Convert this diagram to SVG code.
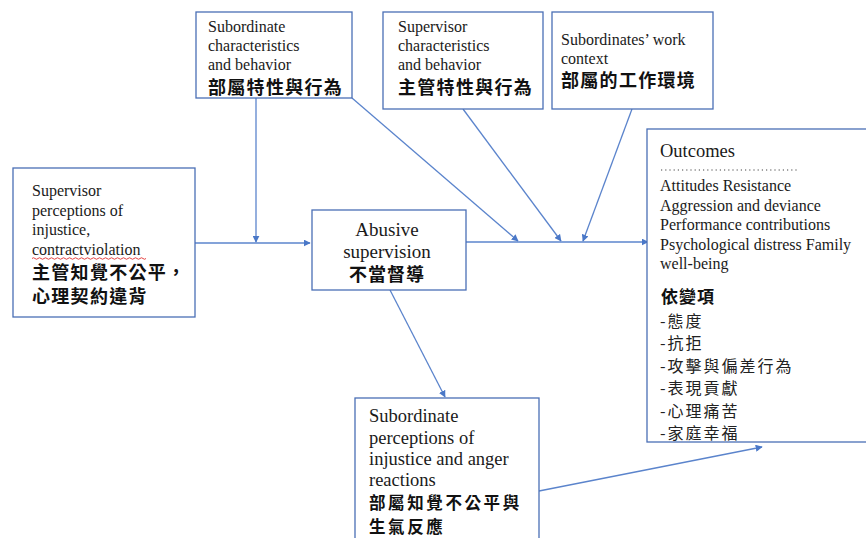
<svg xmlns="http://www.w3.org/2000/svg" width="866" height="538" viewBox="0 0 866 538">
  <defs>
    <style>
      .box { fill: #ffffff; stroke: #4a6fb5; stroke-width: 1.3; }
      .en { font-family: "Liberation Serif", "Times New Roman", serif; fill: #1a1a1a; }
      .zh { font-family: "Noto Sans CJK TC", "Noto Sans CJK SC", sans-serif; font-weight: 700; fill: #111111; }
      .zhl { font-family: "Noto Sans CJK TC", "Noto Sans CJK SC", sans-serif; font-weight: 400; fill: #222222; }
      .link { fill: none; stroke: #5b84cc; stroke-width: 1.3; }
    </style>
    <marker id="arrow" viewBox="0 0 10 10" refX="9" refY="5" markerWidth="7" markerHeight="7" markerUnits="userSpaceOnUse" orient="auto">
      <path d="M0,0 L10,5 L0,10 z" fill="#4a78c8"/>
    </marker>
  </defs>

  <rect width="866" height="538" fill="#ffffff"/>

  <!-- connectors -->
  <g id="connectors">
    <line class="link" x1="195" y1="243" x2="310" y2="243" marker-end="url(#arrow)"/>
    <line class="link" x1="256" y1="98" x2="256" y2="242" marker-end="url(#arrow)"/>
    <line class="link" x1="466" y1="242" x2="648" y2="242" marker-end="url(#arrow)"/>
    <line class="link" x1="352" y1="98" x2="518" y2="241" marker-end="url(#arrow)"/>
    <line class="link" x1="463" y1="109" x2="561" y2="241" marker-end="url(#arrow)"/>
    <line class="link" x1="632" y1="109" x2="583" y2="241" marker-end="url(#arrow)"/>
    <line class="link" x1="390" y1="290" x2="445" y2="397" marker-end="url(#arrow)"/>
    <line class="link" x1="539" y1="491" x2="762" y2="447" marker-end="url(#arrow)"/>
  </g>

  <!-- subordinate characteristics -->
  <g id="sub-char">
    <rect class="box" x="196" y="12" width="156" height="86"/>
    <text class="en" font-size="16" x="208" y="32">Subordinate</text>
    <text class="en" font-size="16" x="208" y="51">characteristics</text>
    <text class="en" font-size="16" x="208" y="70">and behavior</text>
    <text class="zh" font-size="18" x="208" y="94" letter-spacing="1.3">部屬特性與行為</text>
  </g>

  <!-- supervisor characteristics -->
  <g id="sup-char">
    <rect class="box" x="383" y="12" width="160" height="97"/>
    <text class="en" font-size="16" x="398" y="32">Supervisor</text>
    <text class="en" font-size="16" x="398" y="51">characteristics</text>
    <text class="en" font-size="16" x="398" y="70">and behavior</text>
    <text class="zh" font-size="18" x="398" y="94" letter-spacing="1.3">主管特性與行為</text>
  </g>

  <!-- work context -->
  <g id="work-context">
    <rect class="box" x="552" y="12" width="161" height="97"/>
    <text class="en" font-size="16" x="561" y="45">Subordinates’ work</text>
    <text class="en" font-size="16" x="561" y="64">context</text>
    <text class="zh" font-size="18" x="561" y="87" letter-spacing="1.3">部屬的工作環境</text>
  </g>

  <!-- supervisor perceptions -->
  <g id="sup-perceptions">
    <rect class="box" x="13" y="168" width="182" height="149"/>
    <text class="en" font-size="16" x="32" y="196">Supervisor</text>
    <text class="en" font-size="16" x="32" y="216">perceptions of</text>
    <text class="en" font-size="16" x="32" y="235">injustice,</text>
    <text class="en" font-size="16" x="32" y="255">contractviolation</text>
    <!-- spell-check squiggle -->
    <path d="M32,258.5 q1.5,-1.5 3,0 t3,0 t3,0 t3,0 t3,0 t3,0 t3,0 t3,0 t3,0 t3,0 t3,0 t3,0 t3,0 t3,0 t3,0 t3,0 t3,0 t3,0 t3,0 t3,0 t3,0 t3,0 t3,0 t3,0 t3,0 t3,0 t3,0 t3,0 t3,0 t3,0 t3,0 t3,0 t3,0 t3,0 t3,0 t3,0 t3,0 t3,0" fill="none" stroke="#e03030" stroke-width="0.9"/>
    <text class="zh" font-size="18" x="32" y="279" letter-spacing="1.3">主管知覺不公平，</text>
    <text class="zh" font-size="18" x="32" y="303" letter-spacing="1.3">心理契約違背</text>
  </g>

  <!-- abusive supervision -->
  <g id="abusive">
    <rect class="box" x="312" y="210" width="154" height="80"/>
    <text class="en" font-size="19" x="387" y="236" text-anchor="middle">Abusive</text>
    <text class="en" font-size="19" x="387" y="258" text-anchor="middle">supervision</text>
    <text class="zh" font-size="18" x="387" y="281" text-anchor="middle" letter-spacing="1">不當督導</text>
  </g>

  <!-- outcomes -->
  <g id="outcomes">
    <rect class="box" x="647" y="129" width="225" height="313"/>
    <text class="en" font-size="18.5" x="660" y="157">Outcomes</text>
    <line x1="661" y1="170" x2="797" y2="170" stroke="#444444" stroke-width="1.2" stroke-dasharray="1.2 3"/>
    <text class="en" font-size="16" x="660" y="191">Attitudes Resistance</text>
    <text class="en" font-size="16" x="660" y="211">Aggression and deviance</text>
    <text class="en" font-size="16" x="660" y="230">Performance contributions</text>
    <text class="en" font-size="16" x="660" y="250">Psychological distress Family</text>
    <text class="en" font-size="16" x="660" y="269">well-being</text>
    <text class="zh" font-size="17" x="661" y="303" letter-spacing="1">依變項</text>
    <text class="zhl" font-size="16" x="660" y="327" letter-spacing="2">-態度</text>
    <text class="zhl" font-size="16" x="660" y="349" letter-spacing="2">-抗拒</text>
    <text class="zhl" font-size="16" x="660" y="372" letter-spacing="2">-攻擊與偏差行為</text>
    <text class="zhl" font-size="16" x="660" y="394" letter-spacing="2">-表現貢獻</text>
    <text class="zhl" font-size="16" x="660" y="417" letter-spacing="2">-心理痛苦</text>
    <text class="zhl" font-size="16" x="660" y="439" letter-spacing="2">-家庭幸福</text>
  </g>

  <!-- subordinate perceptions -->
  <g id="sub-perceptions">
    <rect class="box" x="355" y="398" width="184" height="150"/>
    <text class="en" font-size="18.5" x="369" y="422">Subordinate</text>
    <text class="en" font-size="18.5" x="369" y="444">perceptions of</text>
    <text class="en" font-size="18.5" x="369" y="465">injustice and anger</text>
    <text class="en" font-size="18.5" x="369" y="486">reactions</text>
    <text class="zh" font-size="16.5" x="369" y="509" letter-spacing="2.6">部屬知覺不公平與</text>
    <text class="zh" font-size="16.5" x="369" y="533" letter-spacing="2.6">生氣反應</text>
  </g>
</svg>
